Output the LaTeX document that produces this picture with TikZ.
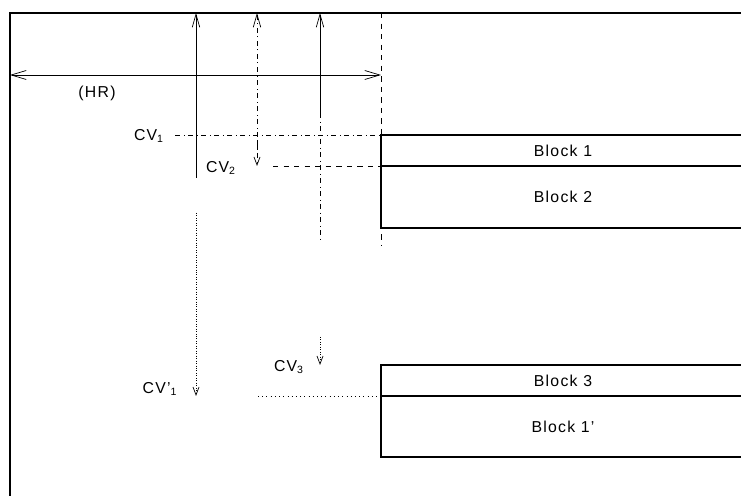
\documentclass[tikz,border=0pt]{standalone}
\usepackage{fontspec}
\setmainfont{Liberation Sans}[LetterSpace=8]
\usetikzlibrary{arrows.meta}

\begin{document}
\begin{tikzpicture}[x=0.02cm, y=-0.02cm, font=\fontsize{9}{10}\selectfont,
  framel/.style={line width=1.2pt},
  blockl/.style={line width=1.1pt},
  guide/.style={line width=0.4pt},
  barb/.style={-{Straight Barb[length=2.6mm,width=1.5mm]}},
  sbarb/.style={-{Straight Barb[length=1.6mm,width=1.2mm]}}]
\useasboundingbox (0,0) rectangle (741,496);

% frame
\coordinate (tl) at (10,13);
\draw[framel] (741,13) -- (tl) -- (10,496);

% reference points
\coordinate (hrL) at (10,75);
\coordinate (hrR) at (381,75);
\coordinate (aTop) at (196,13);
\coordinate (bTop) at (257,13);
\coordinate (cTop) at (320,13);
\coordinate (b1) at (381,135);
\coordinate (b2) at (381,166);
\coordinate (b3) at (381,365);
\coordinate (b4) at (381,396);

% blocks
\draw[blockl] (741,135) -- (b1) -- (381,228) -- (741,228);
\draw[blockl] (b2) -- (741,166);
\draw[blockl] (741,365) -- (b3) -- (381,457) -- (741,457);
\draw[blockl] (b4) -- (741,396);
\node (blk1) at (563,151){Block 1};
\node (blk2) at (563,197){Block 2};
\node (blk3) at (563,381){Block 3};
\node (blk4) at (563,427){Block 1'};

% HR
\draw[guide, {Straight Barb[length=3mm,width=1.8mm]}-{Straight Barb[length=3mm,width=1.8mm]}] (hrL) -- (hrR);
\node (hr) at (97,93){(HR)};
\draw[guide, dashed] (381,13) -- (381,245);

% vertical arrows
\draw[guide, barb] (196,178) -- (aTop);
\draw[guide, densely dotted, sbarb] (196,213) -- (196,396);
\draw[guide, dash dot, barb] (257,150) -- (bTop);
\draw[guide, dash dot, sbarb] (257,140) -- (257,166);
\draw[guide, barb] (320,113) -- (cTop);
\draw[guide, dash dot] (320,113) -- (320,240);
\draw[guide, densely dotted, sbarb] (320,337) -- (320,365);

% horizontal lines
\draw[guide, dash dot] (175,135) -- (b1);
\draw[guide, dashed] (273,166) -- (b2);
\draw[guide, dotted] (258,396) -- (b4);

% labels
\node (cv1) at (149,136){CV\textsubscript{1}};
\node (cv2) at (221,168){CV\textsubscript{2}};
\node (cv1p) at (160,389){CV'\textsubscript{1}};
\node (cv3) at (289,367){CV\textsubscript{3}};
\end{tikzpicture}
\end{document}
